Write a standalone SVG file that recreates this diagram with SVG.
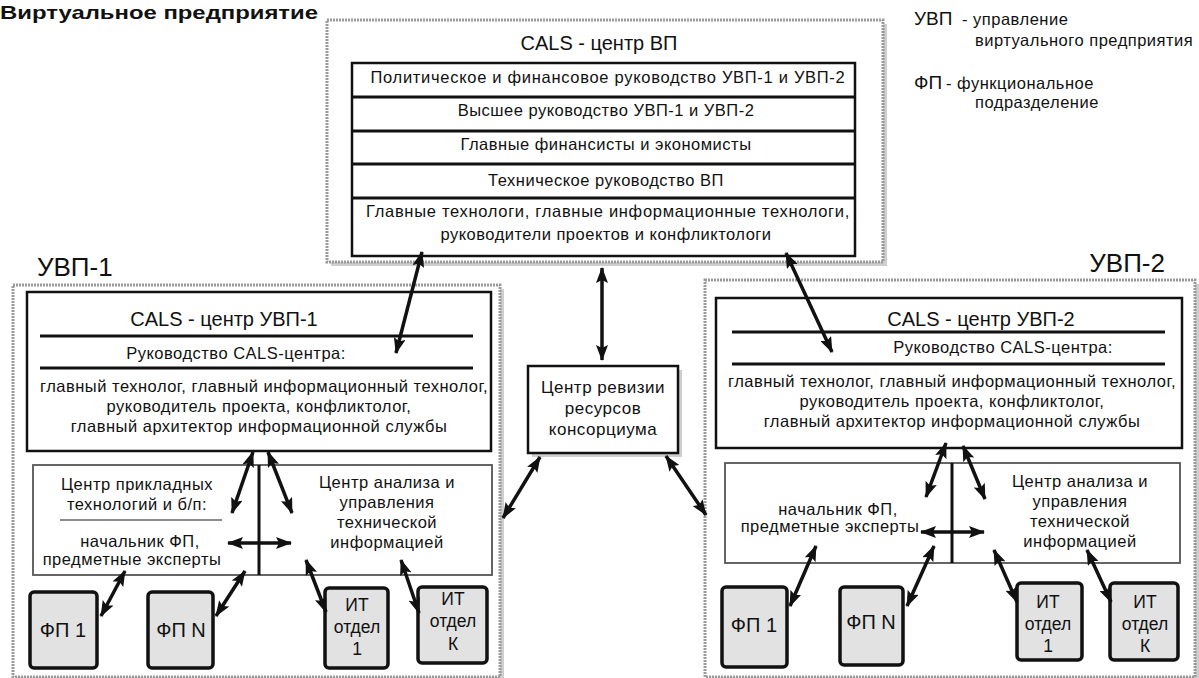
<svg xmlns="http://www.w3.org/2000/svg" width="1199" height="678" viewBox="0 0 1199 678">
<defs>
<style>
.t{font-family:"Liberation Sans",Arial,sans-serif;fill:#111;font-size:16.5px;letter-spacing:0.5px}
.m{text-anchor:middle}
.ttl{font-size:20px;letter-spacing:0}
.big{font-size:26px;letter-spacing:0}
.fpt{font-size:20px;letter-spacing:0}
.itt{font-size:17.5px;letter-spacing:0}
.outer{fill:#fff;stroke:#9a9a9a;stroke-width:3;stroke-dasharray:2 1}
.sh{fill:#cfcfcf}
.box{fill:#fff;stroke:#111;stroke-width:2.5}
.sub{fill:#fff;stroke:#555;stroke-width:1.8}
.fp{fill:#e2e2e2;stroke:#111;stroke-width:3.5}
.ln{stroke:#111;stroke-width:3}
.arr{stroke:#111;stroke-width:3.5;fill:none;marker-start:url(#ah);marker-end:url(#ah)}
</style>
<marker id="ah" markerUnits="userSpaceOnUse" viewBox="0 0 16 12" markerWidth="16" markerHeight="12" refX="15" refY="6" orient="auto-start-reverse">
<path d="M0,0 L16,6 L0,12 L3,6 z" fill="#111"/>
</marker>
</defs>
<rect width="1199" height="678" fill="#fff"/>

<text x="0" y="19" style="font-family:'Liberation Sans',Arial,sans-serif;font-weight:700;font-size:19px;fill:#111" textLength="318" lengthAdjust="spacingAndGlyphs">Виртуальное предприятие</text>

<g id="legend">
<text class="t" x="914" y="25" style="font-size:19px;letter-spacing:0">УВП</text>
<text class="t" x="962" y="25">- управление</text>
<text class="t" x="975" y="46">виртуального предприятия</text>
<text class="t" x="914" y="89" style="font-size:19px;letter-spacing:0">ФП</text>
<text class="t" x="946" y="89">- функциональное</text>
<text class="t" x="975" y="108">подразделение</text>
</g>

<g id="cals-vp">
<rect class="sh" x="331" y="24" width="556" height="242"/>
<rect class="outer" x="327" y="20" width="556" height="242"/>
<text class="t m ttl" x="599" y="50">CALS - центр ВП</text>
<rect class="box" x="352" y="63" width="503" height="193"/>
<line class="ln" x1="352" y1="97" x2="855" y2="97"/>
<line class="ln" x1="352" y1="131" x2="855" y2="131"/>
<line class="ln" x1="352" y1="164" x2="855" y2="164"/>
<line class="ln" x1="352" y1="198" x2="855" y2="198"/>
<text class="t m" x="608" y="83" style="letter-spacing:0.7px">Политическое  и финансовое руководство УВП-1 и УВП-2</text>
<text class="t m" x="606" y="116">Высшее руководство УВП-1 и УВП-2</text>
<text class="t m" x="606" y="150">Главные финансисты и экономисты</text>
<text class="t m" x="606" y="186">Техническое руководство ВП</text>
<text class="t m" x="608" y="217" style="letter-spacing:0.7px">Главные технологи, главные информационные технологи,</text>
<text class="t m" x="606" y="240">руководители проектов и конфликтологи</text>
</g>

<g id="uvp1">
<text class="t big" x="37" y="276">УВП-1</text>
<rect class="sh" x="17" y="289" width="487" height="392"/>
<rect class="outer" x="13" y="285" width="487" height="392"/>
</g>

<g id="cals-uvp1">
<rect class="box" x="27" y="292" width="464" height="159"/>
<text class="t m ttl" x="224" y="326">CALS - центр УВП-1</text>
<line class="ln" x1="40" y1="336" x2="473" y2="336"/>
<text class="t m" x="236" y="359">Руководство CALS-центра:</text>
<line class="ln" x1="40" y1="368" x2="473" y2="368"/>
<text class="t m" x="264" y="392">главный технолог, главный информационный технолог,</text>
<text class="t m" x="259" y="412">руководитель проекта, конфликтолог,</text>
<text class="t m" x="259" y="432">главный архитектор информационной службы</text>
</g>

<g id="centers-uvp1">
<rect class="sub" x="33" y="465" width="459" height="110"/>
<line class="ln" x1="259" y1="465" x2="259" y2="575"/>
<text class="t m" x="137" y="490">Центр прикладных</text>
<text class="t m" x="137" y="510">технологий и б/п:</text>
<line x1="60" y1="520" x2="222" y2="520" stroke="#666" stroke-width="1.5"/>
<text class="t m" x="140" y="547">начальник ФП,</text>
<text class="t m" x="132" y="565">предметные эксперты</text>
<text class="t m" x="387" y="488">Центр анализа и</text>
<text class="t m" x="387" y="508">управления</text>
<text class="t m" x="387" y="528">технической</text>
<text class="t m" x="387" y="548">информацией</text>
</g>

<g id="fp1-1"><rect class="fp" x="30" y="592" width="67" height="76" rx="4"/><text class="t m fpt" x="63" y="637">ФП 1</text></g>
<g id="fpn-1"><rect class="fp" x="148" y="592" width="65" height="76" rx="4"/><text class="t m fpt" x="181" y="637">ФП N</text></g>
<g id="it1-1"><rect class="fp" x="325" y="588" width="63" height="80" rx="4"/><text class="t m itt" x="357" y="611">ИТ</text><text class="t m itt" x="357" y="633">отдел</text><text class="t m itt" x="357" y="655">1</text></g>
<g id="itk-1"><rect class="fp" x="418" y="587" width="69" height="76" rx="4"/><text class="t m itt" x="453" y="605">ИТ</text><text class="t m itt" x="453" y="627">отдел</text><text class="t m itt" x="453" y="650">К</text></g>

<g id="revision">
<rect class="sh" x="532" y="370" width="150" height="87"/>
<rect class="box" x="528" y="366" width="150" height="87"/>
<text class="t m" x="603" y="393" style="font-size:17px">Центр ревизии</text>
<text class="t m" x="603" y="414" style="font-size:17px">ресурсов</text>
<text class="t m" x="603" y="435" style="font-size:17px">консорциума</text>
</g>

<g id="uvp2">
<text class="t big" x="1165" y="272" text-anchor="end">УВП-2</text>
<rect class="sh" x="709" y="284" width="490" height="397"/>
<rect class="outer" x="705" y="280" width="490" height="397"/>
</g>

<g id="cals-uvp2">
<rect class="box" x="716" y="298" width="466" height="150"/>
<text class="t m ttl" x="981" y="326">CALS - центр УВП-2</text>
<line class="ln" x1="732" y1="332" x2="1165" y2="332"/>
<text class="t m" x="1003" y="353">Руководство CALS-центра:</text>
<line class="ln" x1="732" y1="364" x2="1165" y2="364"/>
<text class="t m" x="952" y="387">главный технолог, главный информационный технолог,</text>
<text class="t m" x="952" y="407">руководитель проекта, конфликтолог,</text>
<text class="t m" x="952" y="427">главный архитектор информационной службы</text>
</g>

<g id="centers-uvp2">
<rect class="sub" x="725" y="463" width="455" height="100"/>
<line class="ln" x1="952" y1="463" x2="952" y2="563"/>
<text class="t m" x="838" y="515">начальник ФП,</text>
<text class="t m" x="830" y="532">предметные эксперты</text>
<text class="t m" x="1080" y="487">Центр анализа и</text>
<text class="t m" x="1080" y="507">управления</text>
<text class="t m" x="1080" y="527">технической</text>
<text class="t m" x="1080" y="547">информацией</text>
</g>

<g id="fp1-2"><rect class="fp" x="722" y="587" width="65" height="80" rx="4"/><text class="t m fpt" x="754" y="632">ФП 1</text></g>
<g id="fpn-2"><rect class="fp" x="840" y="587" width="63" height="78" rx="4"/><text class="t m fpt" x="871" y="629">ФП N</text></g>
<g id="it1-2"><rect class="fp" x="1017" y="583" width="65" height="77" rx="4"/><text class="t m itt" x="1048" y="608">ИТ</text><text class="t m itt" x="1048" y="630">отдел</text><text class="t m itt" x="1048" y="652">1</text></g>
<g id="itk-2"><rect class="fp" x="1110" y="583" width="68" height="77" rx="4"/><text class="t m itt" x="1145" y="608">ИТ</text><text class="t m itt" x="1145" y="630">отдел</text><text class="t m itt" x="1145" y="652">К</text></g>

<g id="connectors">
<line class="arr" x1="422" y1="252" x2="396" y2="353"/>
<line class="arr" x1="602" y1="268" x2="602" y2="360"/>
<line class="arr" x1="786" y1="253" x2="832" y2="352"/>
<line class="arr" x1="540" y1="457" x2="503" y2="518"/>
<line class="arr" x1="666" y1="456" x2="706" y2="515"/>
<line class="arr" x1="253" y1="452" x2="232" y2="513"/>
<line class="arr" x1="268" y1="452" x2="292" y2="513"/>
<line class="arr" x1="228" y1="543" x2="291" y2="543"/>
<line class="arr" x1="125" y1="571" x2="101" y2="616"/>
<line class="arr" x1="245" y1="571" x2="216" y2="616"/>
<line class="arr" x1="306" y1="560" x2="326" y2="612"/>
<line class="arr" x1="401" y1="560" x2="419" y2="613"/>
<line class="arr" x1="946" y1="443" x2="926" y2="497"/>
<line class="arr" x1="963" y1="446" x2="985" y2="499"/>
<line class="arr" x1="921" y1="532" x2="984" y2="532"/>
<line class="arr" x1="816" y1="546" x2="790" y2="606"/>
<line class="arr" x1="934" y1="546" x2="907" y2="606"/>
<line class="arr" x1="994" y1="550" x2="1017" y2="602"/>
<line class="arr" x1="1087" y1="550" x2="1111" y2="602"/>
</g>
</svg>
